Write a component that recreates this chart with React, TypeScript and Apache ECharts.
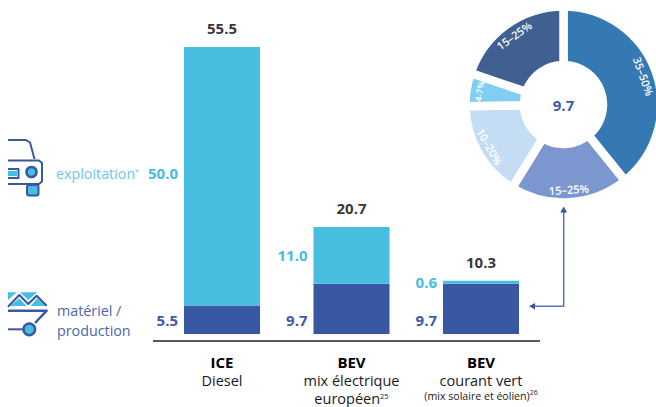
import React, { useEffect, useRef } from "react";
import * as echarts from "echarts";

const categories = ["ICE", "BEV", "BEV"];
const subLabels = [
  "{sub|Diesel}",
  "{sub|mix électrique}\n{sub|européen}{sup|25}",
  "{sub|courant vert}\n{small|(mix solaire et éolien)}{supSmall|26}",
];
const production = [5.5, 9.7, 9.7];
const exploitation = [50.0, 11.0, 0.6];
const totals = [55.5, 20.7, 10.3];
const pieLabels = ["35–50%", "15–25%", "10–20%", "4-7%", "15–25%"];
const pieLabelSizes = [11, 11, 11, 9, 11];
const pieShares = [39.2, 19.6, 15.9, 5.5, 19.8];
const pieColors = ["#3579b4", "#7c97cf", "#c4dcf4", "#80cff0", "#3f6090"];
const centerValue = "9.7";

const DARK = "#3858a4";
const LIGHT = "#47bde0";
const FONT = "'Open Sans', sans-serif";
const CX = 563.5;
const CY = 104.5;

const poly = (points: number[][], fill: string) => ({
  type: "polygon",
  shape: { points },
  style: { fill },
  silent: true,
});
const stroke = (points: number[][], color: string, lineWidth: number) => ({
  type: "polyline",
  shape: { points },
  style: { stroke: color, lineWidth, fill: "none", lineJoin: "round" },
  silent: true,
});
const text = (x: number, y: number, t: string, fill: string, fontSize = 14.3, fontWeight = 400) => ({
  type: "text",
  x,
  y,
  style: { text: t, fill, fontSize, fontWeight, fontFamily: FONT, verticalAlign: "middle", align: "left" },
  silent: true,
});

export default function App() {
  const ref = useRef<HTMLDivElement>(null);
  useEffect(() => {
    if (!ref.current) return;
    const chart = echarts.init(ref.current, undefined, { renderer: "svg" });
    const sideLabel = (color: string, overrides: Record<number, number>, dx = 6) => (v: number, i: number) => ({
      value: v,
      label: {
        show: true,
        position: "left",
        distance: dx,
        offset: [0, overrides[i] ?? 0],
        color,
        fontFamily: FONT,
        fontWeight: 700,
        fontSize: 15,
        formatter: (p: any) => p.value.toFixed(1),
      },
    });
    chart.setOption({
      animation: false,
      backgroundColor: "#fff",
      grid: { left: 157.25, width: 388.5, top: 23.8, height: 310.2, containLabel: false },
      xAxis: {
        type: "category",
        data: categories,
        axisLine: { show: false },
        axisTick: { show: false },
        axisLabel: {
          interval: 0,
          margin: 18,
          fontFamily: FONT,
          align: "center",
          formatter: (v: string, i: number) => `{head|${v}}\n${subLabels[i]}`,
          rich: {
            head: { fontFamily: FONT, fontSize: 15, fontWeight: 700, color: "#000", lineHeight: 19 },
            sub: { fontFamily: FONT, fontSize: 14.5, color: "#1a1a1a", lineHeight: 18 },
            sup: { fontFamily: FONT, fontSize: 7.5, color: "#1a1a1a", verticalAlign: "middle", padding: [0, 0, 4, 0], lineHeight: 10 },
            small: { fontFamily: FONT, fontSize: 10.6, color: "#1a1a1a", lineHeight: 14 },
            supSmall: { fontFamily: FONT, fontSize: 7, color: "#1a1a1a", verticalAlign: "top", lineHeight: 10 },
          },
        },
      },
      yAxis: { type: "value", min: 0, max: 60, show: false },
      series: [
        {
          name: "matériel / production",
          type: "bar",
          stack: "t",
          barWidth: 76,
          itemStyle: { color: DARK },
          data: production.map(sideLabel("#3d5ba6", { 1: 11, 2: 11 })),
        },
        {
          name: "exploitation",
          type: "bar",
          stack: "t",
          barWidth: 76,
          itemStyle: { color: LIGHT },
          data: exploitation.map(sideLabel(LIGHT, { 0: -3 })),
        },
        {
          name: "total",
          type: "scatter",
          symbolSize: 1,
          itemStyle: { color: "transparent" },
          label: {
            show: true,
            position: "top",
            distance: 11,
            color: "#000",
            fontFamily: FONT,
            fontWeight: 700,
            fontSize: 15,
            formatter: (p: any) => p.value.toFixed(1),
          },
          data: totals,
        },
        {
          name: "répartition",
          type: "pie",
          center: [CX, CY],
          radius: [39.5, 98],
          startAngle: 90,
          clockwise: true,
          silent: true,
          itemStyle: { borderColor: "#fff", borderWidth: 8.5 },
          label: { show: false },
          labelLine: { show: false },
          data: pieShares.map((value, i) => ({ value, itemStyle: { color: pieColors[i] } })),
        },
        {
          name: "étiquettes",
          type: "pie",
          center: [CX, CY],
          radius: [72, 92],
          startAngle: 90,
          clockwise: true,
          silent: true,
          itemStyle: { color: "transparent" },
          label: {
            show: true,
            position: "inside",
            rotate: "tangential",
            color: "#fff",
            fontFamily: FONT,
            fontWeight: 600,
            formatter: (p: any) => pieLabels[p.dataIndex],
          },
          labelLine: { show: false },
          data: pieShares.map((value, i) => ({ value, label: { fontSize: pieLabelSizes[i] } })),
        },
      ],
      graphic: [
        { type: "line", shape: { x1: 153, y1: 341, x2: 540, y2: 341 }, style: { stroke: "#222", lineWidth: 1.5 }, silent: true },
        {
          type: "text",
          x: CX,
          y: CY,
          style: { text: centerValue, fill: "#3d5ba6", fontSize: 15, fontWeight: 700, fontFamily: FONT, align: "center", verticalAlign: "middle" },
          silent: true,
        },
        stroke([[563.7, 212], [563.7, 306.3], [534, 306.3]], "#5672b4", 1.5),
        poly([[563.7, 206.5], [560.3, 212.5], [567.1, 212.5]], DARK),
        poly([[529, 306.3], [535, 303], [535, 309.6]], DARK),
        text(56, 173, "exploitation", "#6cc8e6"),
        text(135, 170, "*", "#6cc8e6", 8),
        text(57, 310, "matériel /", "#4a67ae"),
        text(57, 330, "production", "#4a67ae"),
        // car icon
        stroke([[8, 140], [26, 140], [30, 142.5], [34.5, 159]], DARK, 2),
        stroke([[8, 160.5], [39, 160.5], [42, 163], [42, 181.5], [39, 184], [8, 184]], DARK, 2),
        { type: "rect", shape: { x: 8, y: 171, width: 9, height: 5 }, style: { fill: LIGHT }, silent: true },
        stroke([[8, 169], [18.5, 169], [18.5, 178], [8, 178]], DARK, 2),
        { type: "circle", shape: { cx: 31.5, cy: 172, r: 5 }, style: { fill: LIGHT, stroke: DARK, lineWidth: 2.5 }, silent: true },
        { type: "rect", shape: { x: 27, y: 185, width: 11.5, height: 10.5, r: 2 }, style: { fill: LIGHT, stroke: DARK, lineWidth: 2 }, silent: true },
        // material icon
        poly([[8, 292.3], [16.7, 292.3], [8, 300]], LIGHT),
        poly([[20, 292.3], [37.3, 292.3], [28.3, 300]], LIGHT),
        poly([[10, 306], [19.3, 298.3], [26.7, 306]], LIGHT),
        poly([[30.7, 306], [37.3, 298.3], [46, 306]], LIGHT),
        stroke([[8, 306.7], [19.3, 295], [28.3, 304], [36.7, 295.7], [46.7, 305.7]], DARK, 2),
        stroke([[8, 310.7], [46.7, 310.7], [35, 323]], DARK, 2.5),
        stroke([[8, 329.3], [23, 329.3]], DARK, 2),
        { type: "circle", shape: { cx: 29.3, cy: 329.3, r: 5.8 }, style: { fill: LIGHT, stroke: DARK, lineWidth: 2.5 }, silent: true },
      ],
    });
    return () => chart.dispose();
  }, []);
  return <div ref={ref} style={{ position: "absolute", left: 0, top: 0, width: 656, height: 407 }} />;
}
